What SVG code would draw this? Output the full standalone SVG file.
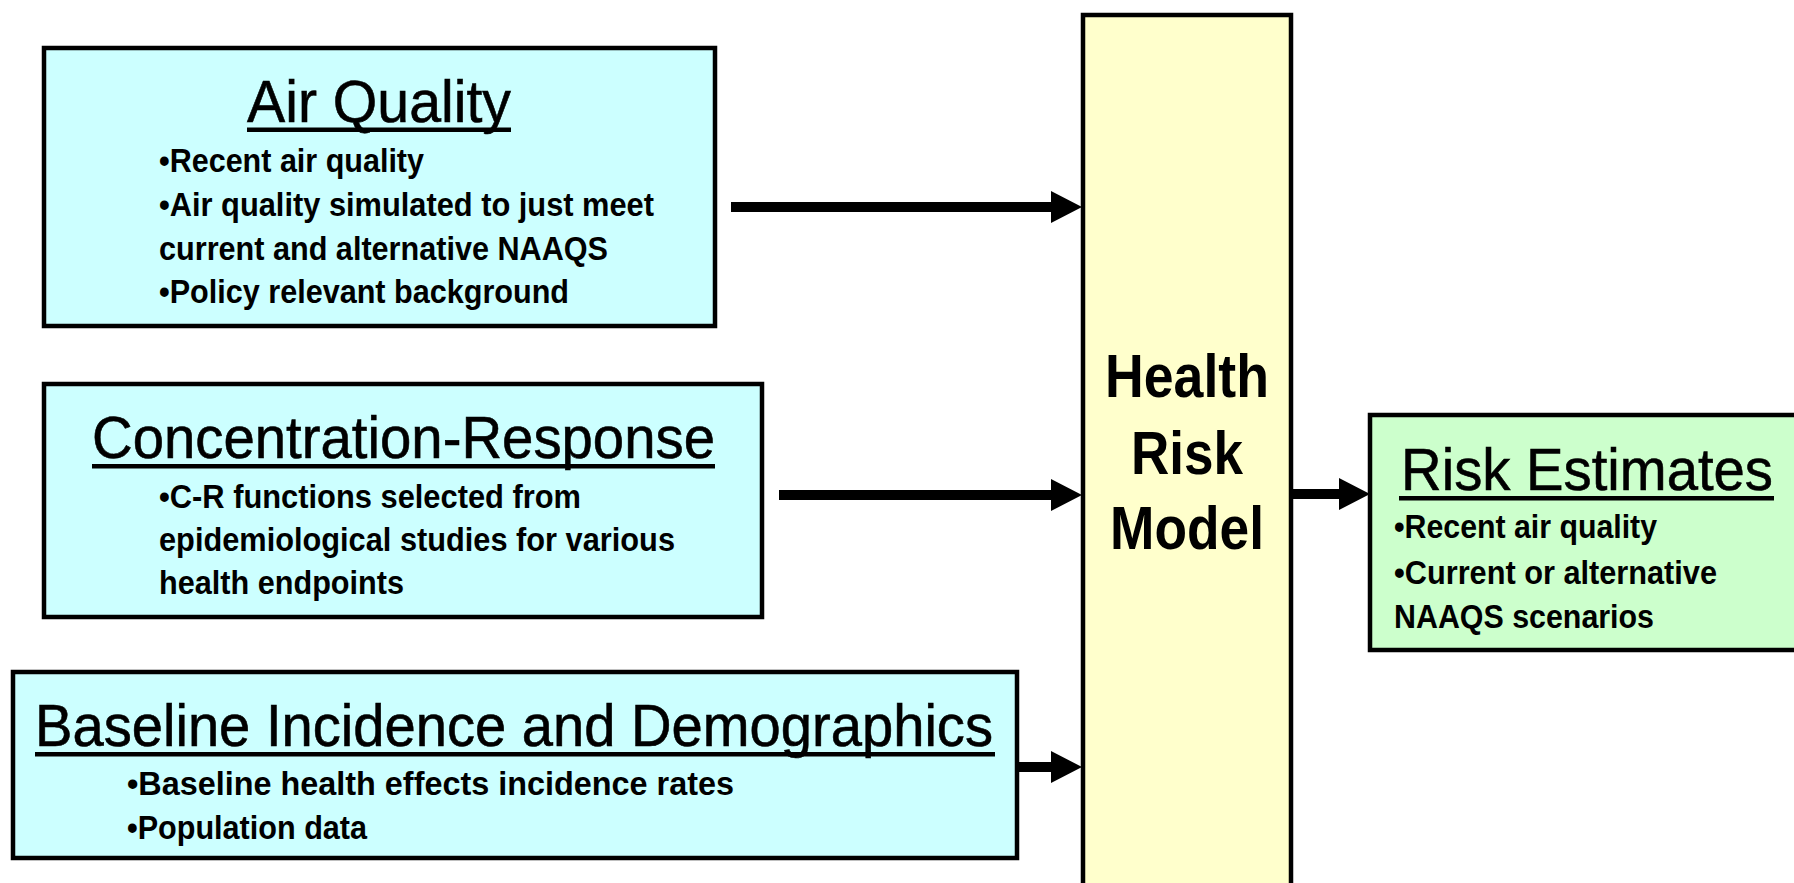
<svg xmlns="http://www.w3.org/2000/svg" width="1794" height="883" viewBox="0 0 1794 883">
  <style>
    .box { stroke: #000; stroke-width: 4.5; }
    .input { fill: #CCFFFF; }
    .model { fill: #FFFFCC; }
    .output { fill: #CCFFCC; }
    .title { font-family: "Liberation Sans", Arial, sans-serif; font-size: 60px; fill: #000; stroke: #000; stroke-width: 0.6; }
    .item { font-family: "Liberation Sans", Arial, sans-serif; font-size: 33px; font-weight: bold; fill: #000; }
    .model-label { font-family: "Liberation Sans", Arial, sans-serif; font-size: 62px; font-weight: bold; fill: #000; text-anchor: middle; }
    .ul { fill: #000; }
    .conn { stroke: #000; stroke-width: 10; fill: none; }
  </style>
  <defs>
    <marker id="head" markerUnits="userSpaceOnUse" markerWidth="32" markerHeight="32" refX="0" refY="16" orient="auto">
      <path d="M0,0 L31,16 L0,32 Z" fill="#000"/>
    </marker>
  </defs>
  <rect width="1794" height="883" fill="#fff"/>

  <!-- Central model column -->
  <g id="health-risk-model">
    <rect class="box model" x="1083" y="15" width="208" height="900"/>
    <text class="model-label" x="1187" y="397" textLength="164" lengthAdjust="spacingAndGlyphs">Health</text>
    <text class="model-label" x="1187" y="474" textLength="112" lengthAdjust="spacingAndGlyphs">Risk</text>
    <text class="model-label" x="1187" y="549" textLength="154" lengthAdjust="spacingAndGlyphs">Model</text>
  </g>

  <g id="air-quality">
    <rect class="box input" x="44" y="48" width="671" height="278"/>
    <text class="title" x="247" y="122" textLength="264" lengthAdjust="spacingAndGlyphs">Air Quality</text>
    <rect class="ul" x="247" y="127.5" width="264" height="4.5"/>
    <text class="item" x="159" y="172" textLength="265" lengthAdjust="spacingAndGlyphs">•Recent air quality</text>
    <text class="item" x="159" y="216" textLength="495" lengthAdjust="spacingAndGlyphs">•Air quality simulated to just meet</text>
    <text class="item" x="159" y="260" textLength="449" lengthAdjust="spacingAndGlyphs">current and alternative NAAQS</text>
    <text class="item" x="159" y="303" textLength="410" lengthAdjust="spacingAndGlyphs">•Policy relevant background</text>
  </g>

  <g id="concentration-response">
    <rect class="box input" x="44" y="384" width="718" height="233"/>
    <text class="title" x="92" y="458" textLength="623" lengthAdjust="spacingAndGlyphs">Concentration-Response</text>
    <rect class="ul" x="92" y="464" width="623" height="4.5"/>
    <text class="item" x="159" y="508" textLength="422" lengthAdjust="spacingAndGlyphs">•C-R functions selected from</text>
    <text class="item" x="159" y="551" textLength="516" lengthAdjust="spacingAndGlyphs">epidemiological studies for various</text>
    <text class="item" x="159" y="594" textLength="245" lengthAdjust="spacingAndGlyphs">health endpoints</text>
  </g>

  <g id="baseline-incidence">
    <rect class="box input" x="13" y="672" width="1004" height="186"/>
    <text class="title" x="35" y="746" textLength="958" lengthAdjust="spacingAndGlyphs">Baseline Incidence and Demographics</text>
    <rect class="ul" x="35" y="752" width="960" height="4.5"/>
    <text class="item" x="127" y="795" textLength="607" lengthAdjust="spacingAndGlyphs">•Baseline health effects incidence rates</text>
    <text class="item" x="127" y="839" textLength="240" lengthAdjust="spacingAndGlyphs">•Population data</text>
  </g>

  <g id="risk-estimates">
    <rect class="box output" x="1370" y="415" width="500" height="235"/>
    <text class="title" x="1401" y="490" textLength="372" lengthAdjust="spacingAndGlyphs">Risk Estimates</text>
    <rect class="ul" x="1399" y="496" width="375" height="4.5"/>
    <text class="item" x="1394" y="538" textLength="263" lengthAdjust="spacingAndGlyphs">•Recent air quality</text>
    <text class="item" x="1394" y="584" textLength="323" lengthAdjust="spacingAndGlyphs">•Current or alternative</text>
    <text class="item" x="1394" y="628" textLength="260" lengthAdjust="spacingAndGlyphs">NAAQS scenarios</text>
  </g>

  <!-- Connectors: shafts end at the arrowhead base -->
  <g id="connectors">
    <line class="conn" x1="731" y1="207" x2="1051" y2="207" marker-end="url(#head)"/>
    <line class="conn" x1="779" y1="495" x2="1051" y2="495" marker-end="url(#head)"/>
    <line class="conn" x1="1019" y1="767" x2="1051" y2="767" marker-end="url(#head)"/>
    <line class="conn" x1="1293" y1="494" x2="1339" y2="494" marker-end="url(#head)"/>
  </g>
</svg>
